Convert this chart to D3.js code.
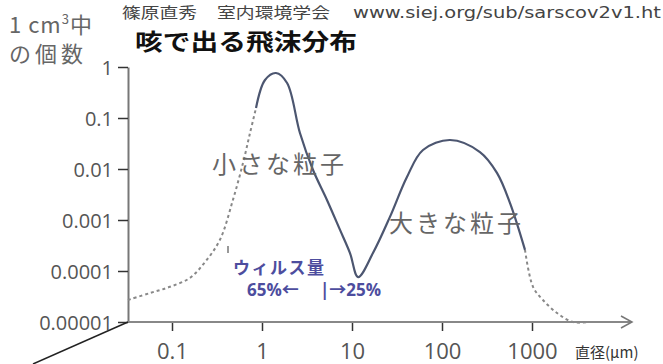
<!DOCTYPE html>
<html>
<head>
<meta charset="utf-8">
<script src="https://cdn.jsdelivr.net/npm/d3@7"></script>
<style>
  html, body { margin: 0; padding: 0; background: #fff; }
  svg { display: block; }
  text { font-family: "Noto Sans CJK JP", "Open Sans", sans-serif; }
</style>
</head>
<body>
<svg id="chart" width="663" height="364"></svg>
<script>
// Droplet size distribution of a cough (number per cm3 vs diameter in μm)
const xTicks = [0.1, 1, 10, 100, 1000];
const xTickLabels = ["0.1", "1", "10", "100", "1000"];
const yTicks = [1, 0.1, 0.01, 0.001, 0.0001, 0.00001];
const yTickLabels = ["1", "0.1", "0.01", "0.001", "0.0001", "0.00001"];

// extrapolated small-droplet tail (dashed)
const smallTailDiam  = [0.0324, 0.057, 0.095, 0.158, 0.233, 0.341, 0.476, 0.615, 0.736, 0.858];
const smallTailCount = [2.7e-5, 3.7e-5, 4.9e-5, 7.3e-5, 1.5e-4, 4.1e-4, 2.5e-3, 0.0131, 0.0508, 0.157];

// measured bimodal distribution (solid)
const measuredDiam  = [0.858, 1.08, 1.43, 1.90, 2.64, 3.69, 5.27, 7.36, 9.5, 11.7, 17.1, 26.4, 40.8, 61.5, 123, 264, 408, 570, 836];
const measuredCount = [0.157, 0.556, 0.762, 0.485, 0.0508, 0.00955, 0.00247, 6.4e-4, 2.25e-4, 7.6e-5, 2.25e-4, 1.15e-3, 6.97e-3, 0.0236, 0.037, 0.0215, 8.4e-3, 2.15e-3, 2.6e-4];

// extrapolated large-droplet tail (dashed)
const largeTailDiam  = [836, 1026, 1324, 1897, 2858, 4406];
const largeTailCount = [2.6e-4, 4.9e-5, 2.7e-5, 1.5e-5, 1e-5, 1e-5];

const svg = d3.select("#chart");

const x = d3.scaleLog().domain([0.1, 1000]).range([172, 532]);
const y = d3.scaleLog().domain([1e-5, 1]).range([322, 67]);

// header line
const header = svg.append("g").attr("fill", "#444").attr("font-size", 15);
header.append("text").attr("x", 122).attr("y", 18)
  .attr("textLength", 75).attr("lengthAdjust", "spacingAndGlyphs").text("篠原直秀");
header.append("text").attr("x", 217).attr("y", 18)
  .attr("textLength", 113).attr("lengthAdjust", "spacingAndGlyphs").text("室内環境学会");
header.append("text").attr("x", 353).attr("y", 18)
  .style("font-family", "'DejaVu Sans', sans-serif").attr("font-size", 15.5)
  .attr("textLength", 308).attr("lengthAdjust", "spacingAndGlyphs")
  .text("www.siej.org/sub/sarscov2v1.ht");

// title
svg.append("text").attr("x", 135).attr("y", 50)
  .attr("font-size", 23).attr("font-weight", "bold").attr("fill", "#111")
  .attr("textLength", 222).attr("lengthAdjust", "spacingAndGlyphs")
  .text("咳で出る飛沫分布");

// y unit label
const unit = svg.append("text").attr("x", 9).attr("y", 33).attr("font-size", 22).attr("fill", "#666")
  .attr("letter-spacing", 1);
unit.append("tspan").text("1 cm");
unit.append("tspan").attr("font-size", 13).attr("dy", -9).text("3");
unit.append("tspan").attr("dy", 9).text("中");
svg.append("text").attr("x", 9).attr("y", 62).attr("font-size", 22).attr("fill", "#666")
  .attr("letter-spacing", 4).text("の個数");

// y axis
const yAxis = svg.append("g").attr("transform", "translate(128,0)")
  .call(d3.axisLeft(y).tickValues(yTicks).tickFormat((d, i) => yTickLabels[i]).tickSize(10).tickSizeOuter(0).tickPadding(5));
yAxis.select(".domain").attr("stroke", "#777").attr("stroke-width", 2);
yAxis.selectAll(".tick line").attr("stroke", "#333").attr("stroke-width", 1.5);
yAxis.selectAll(".tick text").attr("fill", "#555").attr("font-size", 20)
  .style("font-family", "'Open Sans', sans-serif").attr("dy", "0.36em");

// x axis
const xAxis = svg.append("g").attr("transform", "translate(0,322)")
  .call(d3.axisBottom(x).tickValues(xTicks).tickFormat((d, i) => xTickLabels[i]).tickSize(9).tickSizeOuter(0).tickPadding(12));
xAxis.select(".domain").remove();
xAxis.selectAll(".tick line").attr("stroke", "#333").attr("stroke-width", 1.5);
xAxis.selectAll(".tick text").attr("fill", "#555").attr("font-size", 22)
  .style("font-family", "'Open Sans', sans-serif");

// x axis baseline with arrow
svg.append("line").attr("x1", 128).attr("x2", 632).attr("y1", 322).attr("y2", 322)
  .attr("stroke", "#888").attr("stroke-width", 2);
svg.append("path").attr("d", "M621,316 L632,322 L621,328")
  .attr("fill", "none").attr("stroke", "#777").attr("stroke-width", 1.5);
// slanted stroke from the origin
svg.append("line").attr("x1", 128).attr("y1", 322).attr("x2", 33).attr("y2", 364)
  .attr("stroke", "#222").attr("stroke-width", 1.5);

svg.append("text").attr("x", 575).attr("y", 358).attr("font-size", 15).attr("fill", "#333").text("直径(μm)");

// curves
const line = d3.line()
  .x(d => x(d[0])).y(d => y(d[1]))
  .curve(d3.curveCatmullRom.alpha(0.5));
const zip = (a, b) => a.map((v, i) => [v, b[i]]);

svg.append("path").datum(zip(smallTailDiam, smallTailCount)).attr("d", line)
  .attr("fill", "none").attr("stroke", "#888").attr("stroke-width", 2).attr("stroke-dasharray", "3,3");
svg.append("path").datum(zip(largeTailDiam, largeTailCount)).attr("d", line)
  .attr("fill", "none").attr("stroke", "#888").attr("stroke-width", 2).attr("stroke-dasharray", "3,3");
svg.append("path").datum(zip(measuredDiam, measuredCount)).attr("d", line)
  .attr("fill", "none").attr("stroke", "#4c5670").attr("stroke-width", 2.2);

// labels
svg.append("text").attr("x", 212).attr("y", 173).attr("font-size", 24).attr("fill", "#666")
  .attr("letter-spacing", 3).text("小さな粒子");
svg.append("text").attr("x", 389).attr("y", 232).attr("font-size", 24).attr("fill", "#666")
  .attr("letter-spacing", 3).text("大きな粒子");

// virus share marker
svg.append("line").attr("x1", 228).attr("x2", 228).attr("y1", 246).attr("y2", 253)
  .attr("stroke", "#777").attr("stroke-width", 1.5);
svg.append("text").attr("x", 233).attr("y", 274).attr("font-size", 17).attr("font-weight", "bold")
  .attr("fill", "#4d4d9e").attr("letter-spacing", 1.5).text("ウィルス量");
const share = svg.append("text").attr("y", 296).attr("font-size", 17).attr("font-weight", "bold")
  .attr("fill", "#4d4d9e").style("font-family", "'Open Sans', 'Noto Sans CJK JP', sans-serif");
share.append("tspan").attr("x", 247).text("65%←");
share.append("tspan").attr("x", 320).text("|→25%");
</script>
</body>
</html>
